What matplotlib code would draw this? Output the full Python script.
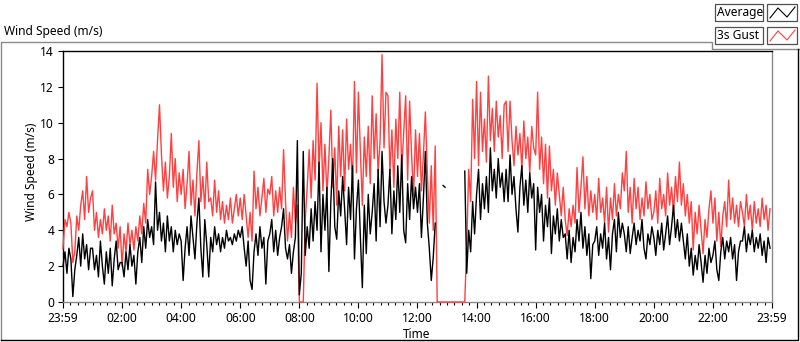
import numpy as np
import matplotlib
matplotlib.use("Agg")
import matplotlib.pyplot as plt
from matplotlib.lines import Line2D
from matplotlib.patches import Rectangle

nan = np.nan

# one sample every 4 minutes, 15 samples per hour
minutes = np.arange(0, 1440, 4)

gust = [
    3.0, 4.6, 4.2, 5.0, 4.4, 2.2, 2.8, 4.8, 4.0, 5.4, 6.2, 4.6, 7.0, 5.0, 5.8,  # 00
    6.2, 4.0, 5.0, 3.6, 4.6, 3.8, 5.2, 4.0, 4.8, 3.4, 5.4, 3.8, 4.4, 3.0, 4.2,  # 01
    2.0, 3.8, 2.8, 4.4, 3.2, 4.0, 2.9, 4.2, 3.4, 4.8, 3.8, 5.5, 4.4, 7.4, 6.0,  # 02
    7.0, 8.4, 6.8, 9.0, 11.0, 8.2, 6.2, 7.8, 5.8, 7.0, 9.4, 6.4, 8.0, 5.6, 7.2,  # 03
    6.0, 7.4, 5.2, 6.6, 8.4, 5.4, 6.8, 4.8, 7.2, 9.0, 5.6, 7.0, 5.2, 7.8, 5.6,  # 04
    5.8, 4.8, 6.8, 5.0, 6.2, 4.6, 5.6, 4.4, 5.4, 4.6, 5.8, 4.4, 5.2, 6.0, 4.8,  # 05
    5.8, 4.6, 6.0, 4.8, 3.6, 5.0, 3.4, 7.3, 5.2, 6.4, 4.8, 5.8, 6.9, 5.0, 6.3,  # 06
    6.0, 7.0, 4.8, 6.2, 5.0, 6.4, 5.2, 8.5, 5.6, 3.4, 5.0, 3.6, 6.4, 4.4, 5.4,  # 07
    0.0, 0.0, 0.0, 4.6, 6.4, 8.5, 5.8, 9.0, 6.8, 12.2, 7.4, 10.0, 6.2, 8.8, 6.0,  # 08
    8.0, 10.7, 6.4, 8.6, 5.4, 9.8, 7.0, 9.6, 6.2, 10.2, 7.4, 8.8, 6.6, 12.3, 7.2,  # 09
    11.7, 8.4, 5.4, 9.2, 7.0, 9.8, 6.6, 11.5, 8.0, 10.5, 7.2, 9.0, 13.8, 8.6, 11.7,  # 10
    11.5, 7.2, 9.6, 6.4, 10.2, 8.0, 11.7, 7.4, 9.4, 11.5, 6.8, 11.2, 8.2, 5.9, 9.6,  # 11
    7.0, 9.4, 6.2, 8.2, 10.6, 7.2, 4.4, 7.6, 4.0, 8.7, 0.0, 0.0, 0.0, 0.0, 0.0,  # 12
    0.0, 0.0, 0.0, 0.0, 0.0, 0.0, 0.0, 0.0, 0.0, 0.0, 3.2, 7.4, 5.6, 11.3, 8.0,  # 13
    12.3, 7.6, 11.7, 8.4, 10.2, 7.8, 12.6, 9.0, 10.8, 8.4, 11.2, 9.2, 10.4, 8.0, 11.0,  # 14
    11.2, 8.4, 11.2, 9.0, 7.6, 9.8, 8.2, 9.4, 7.4, 10.1, 8.0, 9.2, 7.2, 9.8, 8.6,  # 15
    8.2, 11.7, 7.4, 9.2, 6.6, 8.8, 5.8, 8.7, 6.2, 7.4, 5.4, 7.2, 6.0, 4.8, 6.4,  # 16
    4.6, 3.7, 5.2, 4.2, 5.4, 4.4, 7.5, 5.0, 6.4, 8.1, 5.2, 7.0, 4.8, 6.2, 5.0,  # 17
    6.0, 4.6, 6.9, 5.0, 5.8, 4.4, 6.4, 3.9, 5.8, 4.6, 6.6, 4.8, 6.0, 5.2, 7.2,  # 18
    6.2, 8.4, 5.0, 6.4, 4.4, 6.9, 5.2, 6.4, 4.6, 5.8, 4.8, 6.7, 5.2, 6.0, 4.6,  # 19
    5.0, 6.2, 4.4, 6.9, 5.2, 6.0, 4.8, 7.2, 5.4, 6.4, 5.0, 7.0, 5.6, 7.8, 5.4,  # 20
    6.6, 4.8, 6.0, 4.4, 5.6, 2.9, 5.0, 3.8, 5.4, 4.0, 2.7, 4.6, 3.6, 5.2, 6.2,  # 21
    4.4, 5.8, 3.4, 5.0, 3.1, 4.8, 5.6, 4.2, 6.8, 4.6, 5.8, 4.4, 5.4, 4.2, 5.6,  # 22
    5.0, 4.2, 6.0, 4.6, 5.4, 4.0, 5.6, 4.4, 5.2, 4.2, 5.8, 4.6, 5.4, 4.0, 5.2,  # 23
]

average = [
    2.0, 2.8, 1.6, 3.0, 2.4, 0.3, 1.8, 2.6, 3.6, 2.0, 3.8, 2.4, 3.2, 1.8, 3.0,  # 00
    3.0, 1.8, 2.6, 1.4, 3.4, 2.0, 1.0, 2.8, 1.6, 3.0, 0.9, 2.4, 3.4, 1.8, 2.2,  # 01
    2.2, 1.4, 2.8, 1.8, 3.2, 2.0, 2.6, 1.0, 2.8, 3.6, 2.2, 4.2, 3.0, 4.6, 3.6,  # 02
    4.2, 3.2, 6.7, 4.0, 5.0, 3.4, 4.4, 2.8, 4.8, 3.4, 4.2, 2.8, 4.0, 3.2, 3.8,  # 03
    3.4, 1.2, 3.0, 4.2, 2.6, 4.8, 3.6, 2.4, 4.4, 5.8, 3.0, 1.4, 4.6, 3.2, 1.4,  # 04
    3.6, 2.8, 4.2, 3.2, 3.8, 2.8, 3.6, 3.0, 4.0, 3.4, 3.6, 3.2, 3.8, 3.4, 4.0,  # 05
    3.6, 4.2, 3.0, 2.0, 3.4, 1.2, 0.7, 2.8, 3.8, 2.6, 4.2, 3.0, 3.6, 1.0, 3.4,  # 06
    3.8, 4.6, 2.8, 4.0, 2.6, 3.6, 4.2, 5.2, 3.0, 2.4, 3.2, 1.6, 2.8, 3.6, 9.0,  # 07
    0.4, 1.6, 8.4, 2.6, 4.2, 3.0, 5.2, 3.4, 5.6, 4.0, 7.8, 2.8, 6.0, 4.0, 6.4,  # 08
    1.7, 5.6, 8.0, 4.2, 3.5, 6.2, 4.8, 7.0, 5.2, 3.2, 6.4, 4.6, 7.6, 2.4, 5.2,  # 09
    6.8, 3.6, 0.8, 5.4, 2.7, 6.0, 3.8, 5.0, 6.6, 3.4, 7.4, 4.2, 8.4, 5.6, 4.4,  # 10
    5.4, 7.4, 3.8, 6.2, 4.6, 7.6, 5.0, 8.2, 4.0, 3.3, 6.6, 4.6, 7.0, 5.2, 6.4,  # 11
    5.0, 6.6, 3.6, 5.8, 8.4, 4.4, 3.0, 1.2, 2.5, 4.4, nan, nan, nan, 6.5, 6.4,  # 12
    nan, nan, nan, nan, nan, nan, nan, nan, nan, 7.3, 1.6, 4.0, 2.8, 5.6, 3.8,  # 13
    6.0, 7.4, 4.6, 6.6, 5.2, 7.0, 5.0, 8.6, 6.2, 7.4, 5.8, 8.0, 6.4, 7.2, 5.6,  # 14
    7.4, 5.6, 8.2, 6.0, 7.0, 5.2, 3.9, 6.4, 7.6, 5.4, 6.8, 5.0, 7.2, 5.8, 6.6,  # 15
    2.9, 6.4, 5.0, 6.0, 3.4, 5.4, 4.2, 5.8, 2.7, 4.8, 3.8, 5.2, 3.4, 4.6, 3.6,  # 16
    3.8, 2.4, 4.0, 2.2, 3.6, 2.8, 4.6, 3.4, 5.0, 3.0, 4.2, 2.6, 3.8, 1.3, 3.2,  # 17
    3.4, 4.2, 2.6, 3.8, 3.0, 4.4, 2.4, 3.6, 1.8, 3.8, 4.6, 2.8, 5.0, 3.6, 4.4,  # 18
    3.8, 2.8, 4.2, 2.7, 3.6, 4.4, 3.2, 4.0, 3.4, 4.6, 3.0, 2.4, 3.8, 3.2, 4.2,  # 19
    3.6, 2.6, 4.0, 3.2, 4.4, 2.9, 3.8, 4.8, 3.2, 4.2, 5.4, 3.6, 4.6, 3.4, 4.4,  # 20
    3.4, 2.4, 3.8, 2.0, 3.0, 1.5, 2.6, 1.8, 3.2, 2.2, 1.1, 2.6, 1.6, 3.0, 2.2,  # 21
    2.6, 3.4, 1.8, 1.2, 2.8, 3.6, 2.4, 3.4, 2.8, 3.6, 2.4, 3.2, 1.2, 2.8, 3.4,  # 22
    3.4, 4.2, 2.8, 3.8, 3.2, 4.0, 2.8, 3.6, 3.0, 3.8, 2.6, 3.4, 2.2, 3.6, 3.0,  # 23
]

tick_minutes = [-1, 120, 240, 360, 480, 600, 720, 840, 960, 1080, 1200, 1320, 1439]
tick_labels = ["23:59", "02:00", "04:00", "06:00", "08:00", "10:00", "12:00",
               "14:00", "16:00", "18:00", "20:00", "22:00", "23:59"]
y_ticks = [0, 2, 4, 6, 8, 10, 12, 14]

plt.rcParams['font.family'] = ['Noto Sans', 'DejaVu Sans']
plt.rcParams['font.size'] = 8.6

W, H = 800, 342
fig = plt.figure(figsize=(W / 100, H / 100), dpi=100)


def px(x, y):
    # pixel position (top-left origin) -> figure fraction
    return x / W, 1 - y / H


ax = fig.add_axes([62.5 / W, 40 / H, 709 / W, 251 / H])
ax.plot(minutes, gust, color="#ff4040", lw=1.0, clip_on=False, zorder=3)
ax.plot(minutes, average, color="black", lw=1.0, clip_on=False, zorder=3)
ax.set_xlim(-1, 1439)
ax.set_ylim(0, 14)

ax.set_xticks(tick_minutes)
ax.set_xticklabels(tick_labels)
ax.set_xticks([m for m in range(15, 1439, 15) if m % 120 != 0], minor=True)
ax.set_yticks(y_ticks)
ax.tick_params(axis="x", which="major", length=4.5, width=0.8, pad=2.5, direction="out")
ax.tick_params(axis="x", which="minor", length=2.5, width=0.8, direction="out")
ax.tick_params(axis="y", length=3.5, width=0.8, pad=2.5, direction="out")

for side in ["top", "left"]:
    ax.spines[side].set_color("black")
for side in ["right", "bottom"]:
    ax.spines[side].set_color("#8a8a8a")
for sp in ax.spines.values():
    sp.set_linewidth(1.0)

# labels
fig.text(*px(4, 32), "Wind Speed (m/s)", ha="left", va="center")
fig.text(*px(32, 172), "Wind Speed (m/s)", ha="center", va="center", rotation=90)
fig.text(*px(417, 334), "Time", ha="center", va="center")

# outer frame
frame_gray = [(1, 340), (1, 42), (712, 42), (712, 49), (799, 49)]
fig.add_artist(Line2D([px(*p)[0] for p in frame_gray], [px(*p)[1] for p in frame_gray],
                      color="#8a8a8a", lw=1.0, transform=fig.transFigure))
frame_dark = [(1, 340), (798, 340), (798, 49)]
fig.add_artist(Line2D([px(*p)[0] for p in frame_dark], [px(*p)[1] for p in frame_dark],
                      color="black", lw=1.0, transform=fig.transFigure))

# legend boxes
for (name, col, y0) in [("Average", "black", 4), ("3s Gust", "#ff4040", 27)]:
    for (bx, bw) in [(715, 48), (767, 30)]:
        x0, y1 = px(bx, y0 + 17)
        fig.add_artist(Rectangle((x0, y1), bw / W, 17 / H, transform=fig.transFigure,
                                 facecolor="white", edgecolor="#505050", lw=0.9))
    fig.text(*px(717, y0 + 8.5), name, ha="left", va="center")
    pts = [(770, y0 + 14), (778, y0 + 4), (787, y0 + 13), (795, y0 + 3)]
    fig.add_artist(Line2D([px(*p)[0] for p in pts], [px(*p)[1] for p in pts],
                          color=col, lw=0.8, transform=fig.transFigure))

fig.savefig("out.png", dpi=100)
